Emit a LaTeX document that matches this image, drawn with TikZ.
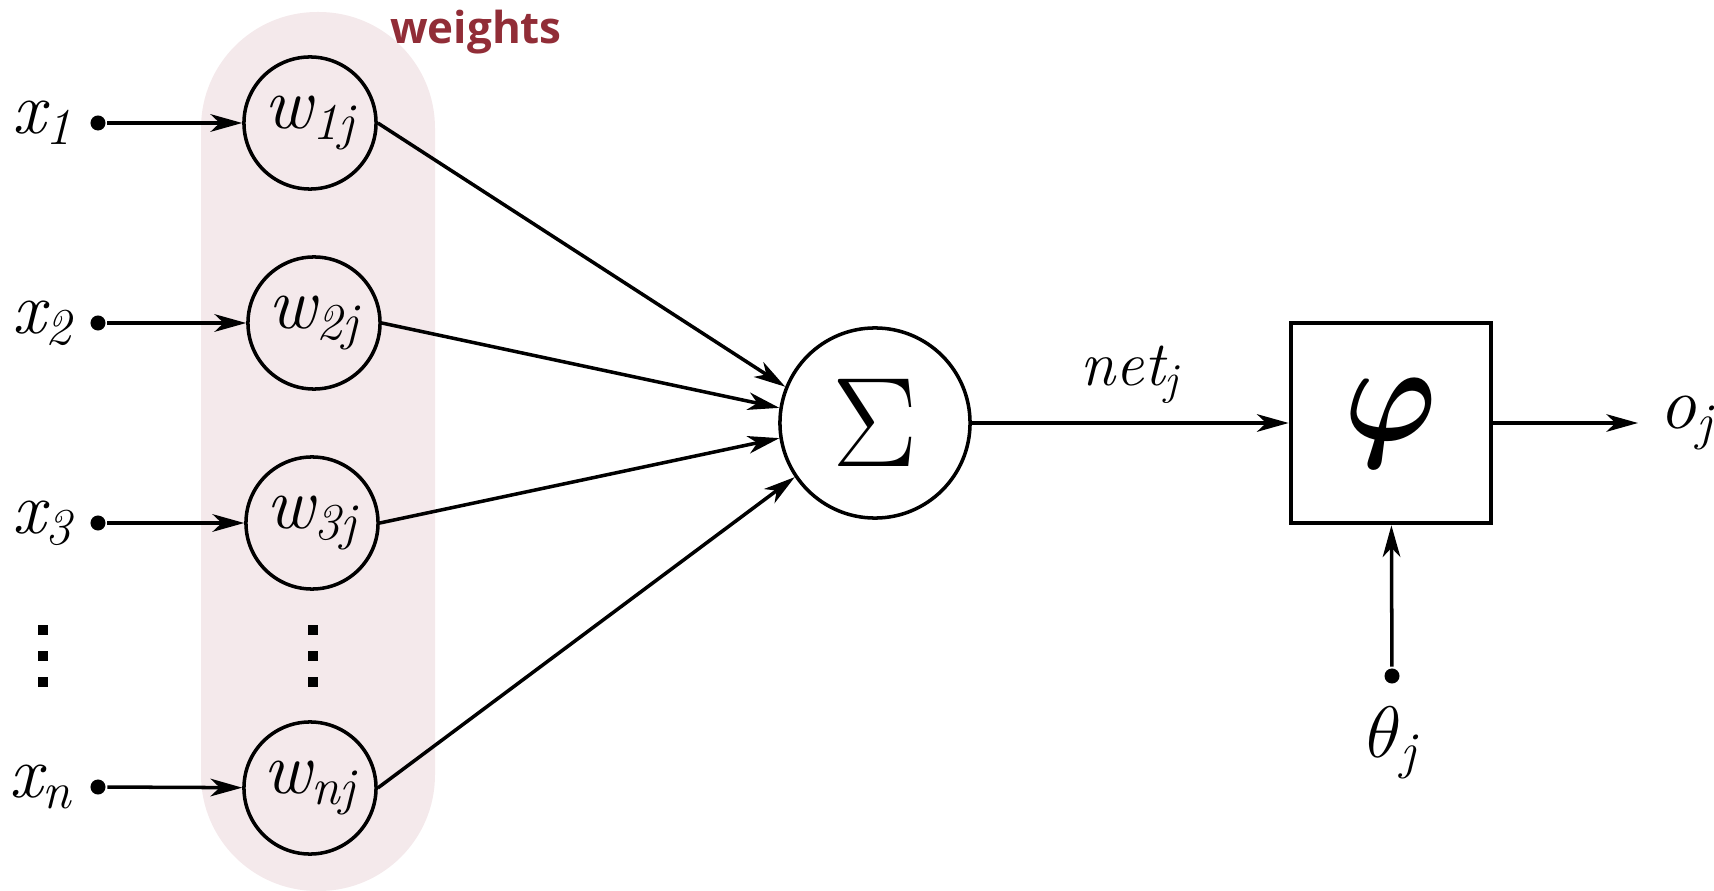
\documentclass[tikz,border=0pt]{standalone}
\usepackage{amsmath}
\usepackage{fontspec}
\newfontfamily\weightsfont{Open Sans}
\usetikzlibrary{positioning,arrows.meta,shapes.misc}
\definecolor{wpink}{RGB}{244,233,235}
\definecolor{wred}{RGB}{145,45,55}
\newcommand\isub[2]{$\textit{#1}_{\textit{#2}}$}

\begin{document}
\begin{tikzpicture}[
    x=0.01cm, y=-0.01cm,
    line width=1pt,
    >={Stealth[length=9pt,width=5pt,inset=2.6pt]},
    weight/.style={circle, draw, minimum size=1.32cm, inner sep=0pt, font=\fontsize{21}{24}\selectfont},
    sumnode/.style={circle, draw, minimum size=1.9cm, inner sep=0pt, font=\fontsize{20}{24}\selectfont},
    actbox/.style={rectangle, draw, line width=1.3pt, minimum size=2cm, inner sep=0pt, font=\fontsize{20}{24}\selectfont},
    indot/.style={circle, fill, minimum size=0.15cm, inner sep=0pt},
    varlab/.style={inner sep=0pt, font=\fontsize{21}{24}\selectfont}
]
\useasboundingbox (0,0) rectangle (1714,891);

% weights band
\fill[wpink, rounded corners=1.16cm] (201,12) rectangle (435,891);
\node[text=wred, font=\weightsfont\bfseries\fontsize{12.5}{14}\selectfont] (wtitle) at (476,32) {weights};

% inputs and weights
\node[indot] (d1) at (98,123) {};
\node[indot] (d2) at (98,323) {};
\node[indot] (d3) at (98,523) {};
\node[indot] (dn) at (98,787) {};
\node[varlab, left=0.14cm of d1] (x1) {\isub{x}{1}};
\node[varlab, left=0.14cm of d2] (x2) {\isub{x}{2}};
\node[varlab, left=0.14cm of d3] (x3) {\isub{x}{3}};
\node[varlab, left=0.14cm of dn] (xn) {\isub{x}{n}};
\node[weight] (w1) at (310,123) {\isub{w}{1j}};
\node[weight] (w2) at (314,323) {\isub{w}{2j}};
\node[weight] (w3) at (312,523) {\isub{w}{3j}};
\node[weight] (wn) at (310,788) {\isub{w}{nj}};
\foreach \y in {625,651,677} {
    \fill (38,\y) rectangle ++(10,10);
    \fill (308,\y) rectangle ++(10,10);
}

% summation and activation
\node[sumnode] (sum) at (875,423) {\scalebox{1.75}{$\Sigma$}};
\node[actbox] (act) at (1391,423) {\scalebox{1.7}[1.9]{$\boldsymbol{\varphi}$}};
\coordinate (out) at (1638,423);
\node[varlab, right=0.2cm of out] (oj) {\isub{o}{j}};
\node[indot] (tdot) at (1392,676) {};
\node[varlab, below=0.2cm of tdot] (theta) {$\theta_{\textit{j}}$};

% connections
\foreach \i in {1,2,3,n} \draw[->] (d\i) -- (w\i);
\draw[->] (w1.east) -- (sum.158);
\draw[->] (w2.east) -- (sum.171);
\draw[->] (w3.east) -- (sum.189);
\draw[->] (wn.east) -- (sum.214);
\draw[->] (sum) -- node[varlab, font=\fontsize{18}{22}\selectfont, above=0.18cm] (net) {\isub{net}{j}} (act);
\draw[->] (act) -- (out);
\draw[->] (tdot) -- (act);

\end{tikzpicture}
\end{document}
